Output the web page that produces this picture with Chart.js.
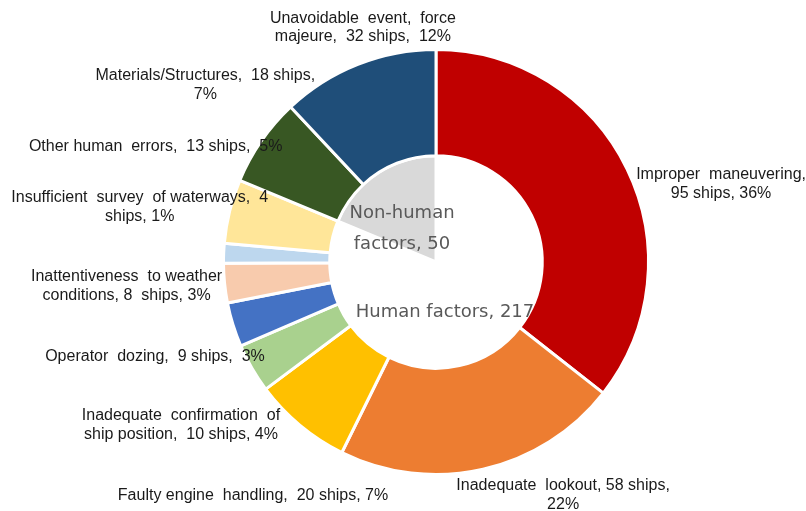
<!DOCTYPE html>
<html>
<head>
<meta charset="utf-8">
<script src="https://cdn.jsdelivr.net/npm/chart.js@4"></script>
<style>
html,body{margin:0;padding:0;background:#fff;}
#wrap{width:806px;height:511px;position:relative;}
</style>
</head>
<body>
<div id="wrap"><canvas id="c" width="806" height="511"></canvas></div>
<script>
// ---- data ----
const causes = [
  "Improper maneuvering",
  "Inadequate lookout",
  "Faulty engine handling",
  "Inadequate confirmation of ship position",
  "Operator dozing",
  "Inattentiveness to weather conditions",
  "Insufficient survey of waterways",
  "Other human errors",
  "Materials/Structures",
  "Unavoidable event, force majeure"
];
const ships = [95, 58, 20, 10, 9, 8, 4, 13, 18, 32];
const shares = [36, 22, 7, 4, 3, 3, 1, 5, 7, 12];
const causeLabelLines = [
  ["Improper  maneuvering,", "95 ships, 36%"],
  ["Inadequate  lookout, 58 ships,", "22%"],
  ["Faulty engine  handling,  20 ships, 7%"],
  ["Inadequate  confirmation  of", "ship position,  10 ships, 4%"],
  ["Operator  dozing,  9 ships,  3%"],
  ["Inattentiveness  to weather", "conditions, 8  ships, 3%"],
  ["Insufficient  survey  of waterways,  4", "ships, 1%"],
  ["Other human  errors,  13 ships,  5%"],
  ["Materials/Structures,  18 ships,", "7%"],
  ["Unavoidable  event,  force", "majeure,  32 ships,  12%"]
];
const factorGroups = ["Human factors", "Non-human factors"];
const factorShips = [217, 50];
const factorLabelLines = [["Human factors, 217"], ["Non-human", "factors, 50"]];

// ---- styles ----
const causeColors = ["#C00000","#ED7D31","#FFC000","#A9D18E","#4472C4","#F8CBAD","#BDD7EE","#FFE699","#385723","#1F4E79"];
const factorColors = ["#FFFFFF","#D9D9D9"];
// label offsets from each arc's outer mid-point (px)
const causeLabelOffsets = [[94,15],[80,26],[-47,70],[-71,57],[-78,32],[-98,3],[-84,-46],[-74,-65],[-56,-56],[5,-37]];
// inner label offsets from chart centre (px)
const factorLabelOffsets = [[9,50],[-34,-33]];

const labelPlugin = {
  id: 'sliceLabels',
  afterDatasetsDraw(chart) {
    const ctx = chart.ctx;
    ctx.save();
    ctx.textAlign = 'center';
    ctx.textBaseline = 'middle';
    // outer labels
    const outer = chart.getDatasetMeta(0).data;
    ctx.font = '16px "Liberation Sans", Arial, sans-serif';
    ctx.fillStyle = '#1a1a1a';
    const lh = 18.5;
    outer.forEach((arc, i) => {
      const p = arc.getProps(['x','y','startAngle','endAngle','outerRadius'], true);
      const mid = (p.startAngle + p.endAngle) / 2;
      const ax = p.x + Math.cos(mid) * p.outerRadius + causeLabelOffsets[i][0];
      const ay = p.y + Math.sin(mid) * p.outerRadius + causeLabelOffsets[i][1];
      const lines = causeLabelLines[i];
      const y0 = ay - (lines.length - 1) * lh / 2;
      lines.forEach((t, k) => ctx.fillText(t, ax, y0 + k * lh));
    });
    // inner labels
    const inner = chart.getDatasetMeta(1).data;
    ctx.font = '18px "DejaVu Sans", Verdana, sans-serif';
    ctx.fillStyle = '#595959';
    const lh2 = 30.5;
    inner.forEach((arc, i) => {
      const p = arc.getProps(['x','y'], true);
      const ax = p.x + factorLabelOffsets[i][0];
      const ay = p.y + factorLabelOffsets[i][1];
      const lines = factorLabelLines[i];
      const y0 = ay - (lines.length - 1) * lh2 / 2;
      lines.forEach((t, k) => ctx.fillText(t, ax, y0 + k * lh2));
    });
    ctx.restore();
  }
};

new Chart(document.getElementById('c'), {
  type: 'doughnut',
  data: {
    labels: causes,
    datasets: [
      { data: ships, backgroundColor: causeColors, borderColor: '#FFFFFF', borderWidth: 3 },
      { data: factorShips, labels: factorGroups, backgroundColor: factorColors, borderColor: '#FFFFFF', borderWidth: 3 }
    ]
  },
  options: {
    responsive: false,
    animation: false,
    cutout: 0,
    layout: { padding: { left: 222, right: 156, top: 47, bottom: 34 } },
    plugins: { legend: { display: false }, tooltip: { enabled: false } }
  },
  plugins: [labelPlugin]
});
</script>
</body>
</html>
